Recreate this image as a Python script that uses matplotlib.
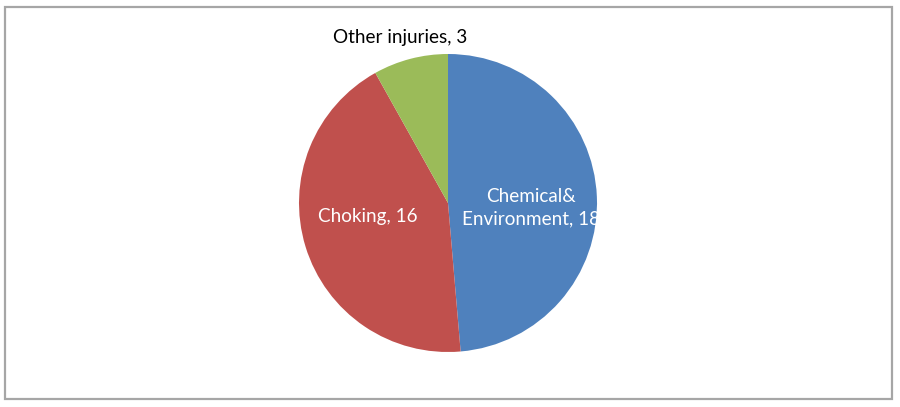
import matplotlib
matplotlib.use("Agg")
import matplotlib.pyplot as plt
from matplotlib.patches import Rectangle

categories = ["Chemical&\nEnvironment", "Choking", "Other injuries"]
values = [18, 16, 3]
colors = ["#4F81BD", "#C0504D", "#9BBB59"]
label_colors = ["white", "white", "black"]
label_pos = [(0.56, -0.03), (-0.54, -0.09), (-0.32, 1.11)]
label_clip = [True, False, False]

W, H = 900, 407
fig = plt.figure(figsize=(W / 100, H / 100), dpi=100)
fig.patch.set_facecolor("white")
fig.add_artist(Rectangle((5 / W, (H - 399) / H), 887 / W, 392 / H, transform=fig.transFigure,
                         fill=False, edgecolor="#A6A6A6", linewidth=1.6))

cx, cy, r = 448, 203, 149
ax = fig.add_axes([(cx - r) / W, (H - cy - r) / H, 2 * r / W, 2 * r / H])
ax.pie(values, colors=colors, startangle=90, counterclock=False, radius=1,
       wedgeprops=dict(linewidth=0))
ax.set_xlim(-1, 1)
ax.set_ylim(-1, 1)
ax.set_aspect("equal")
ax.axis("off")

for cat, v, c, (x, y), clip in zip(categories, values, label_colors, label_pos, label_clip):
    ax.text(x, y, f"{cat}, {v}", ha="center", va="center", color=c,
            fontsize=13.6, family=["Lato", "DejaVu Sans"], linespacing=1.4, clip_on=clip)

fig.savefig("out.png", dpi=100)
